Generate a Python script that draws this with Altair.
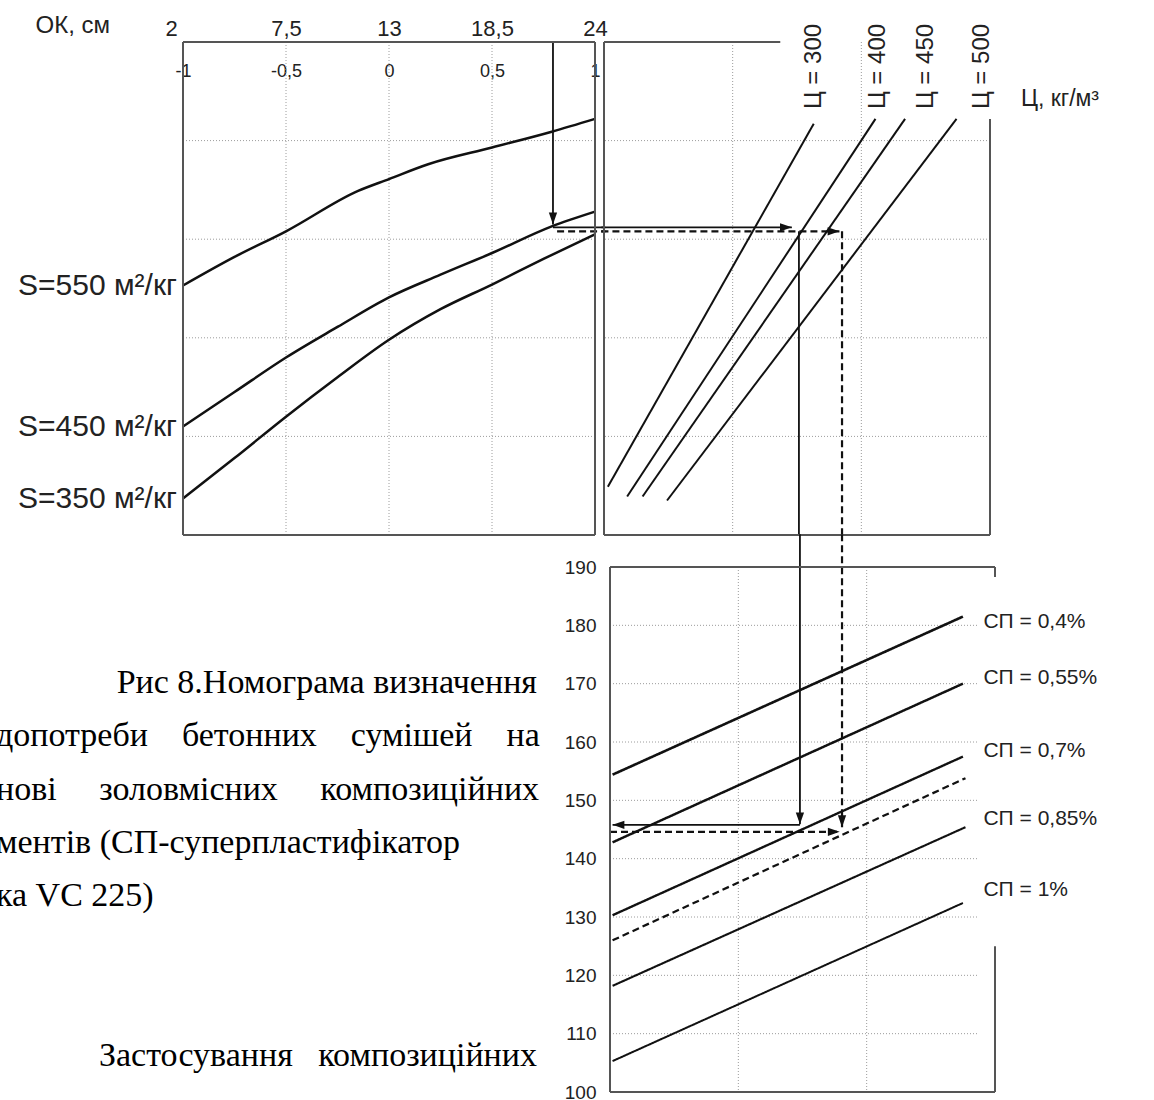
import altair as alt
import pandas as pd

# ---------------- values ----------------
# top-left panel: coded slump factor (-1 .. 1) on x, nomogram rows (0 .. 5) on y
ok_coded = [-1, -0.5, 0, 0.5, 1]
ok_text = ["2", "7,5", "13", "18,5", "24"]            # ОК, см
coded_text = ["-1", "-0,5", "0", "0,5", "1"]
tl_grid_rows = [1, 2, 3, 4]

s_names = ["S=550 м²/кг", "S=450 м²/кг", "S=350 м²/кг"]
s550_x = [-1, -0.75, -0.5, -0.15, 0, 0.19, 0.5, 0.79, 1]
s550_y = [2.53, 2.82, 3.08, 3.49, 3.61, 3.76, 3.93, 4.09, 4.22]
s450_x = [-1, -0.75, -0.5, -0.25, 0, 0.25, 0.5, 0.79, 1]
s450_y = [1.10, 1.45, 1.80, 2.11, 2.41, 2.64, 2.86, 3.13, 3.28]
s350_x = [-1, -0.75, -0.5, -0.25, 0, 0.25, 0.5, 0.75, 1]
s350_y = [0.37, 0.78, 1.20, 1.60, 1.98, 2.29, 2.54, 2.80, 3.05]

# top-right panel: cement content lines (x 0 .. 3, same rows as the left panel)
c_names = ["Ц = 300", "Ц = 400", "Ц = 450", "Ц = 500"]
c_x0 = [0.03, 0.18, 0.30, 0.49]
c_y0 = [0.49, 0.39, 0.39, 0.35]
c_x1 = [1.63, 2.11, 2.34, 2.74]
c_y1 = [4.17, 4.22, 4.22, 4.22]
c_label_x = [1.63, 2.13, 2.50, 2.94]
c_label_y = [4.32, 4.32, 4.32, 4.32]
c_unit = ["Ц, кг/м³"]
c_unit_x = [3.24]
c_unit_y = [4.42]
tr_grid_cols = [1, 2]

# bottom panel: water demand, л/м³ (100 .. 190)
w_ticks = [100, 110, 120, 130, 140, 150, 160, 170, 180, 190]
w_grid_rows = [110, 120, 130, 140, 150, 160, 170, 180]
sp_names = ["СП = 0,4%", "СП = 0,55%", "СП = 0,7%", "проміжна", "СП = 0,85%", "СП = 1%"]
sp_x0 = [0.02, 0.02, 0.02, 0.02, 0.02, 0.02]
sp_y0 = [154.4, 142.8, 130.3, 126.0, 118.2, 105.3]
sp_x1 = [2.75, 2.75, 2.75, 2.77, 2.77, 2.75]
sp_y1 = [181.5, 170.0, 157.5, 153.8, 145.4, 132.4]
sp_label = ["СП = 0,4%", "СП = 0,55%", "СП = 0,7%", "СП = 0,85%", "СП = 1%"]
sp_label_y = [180.6, 171.0, 158.5, 146.8, 134.6]
sp_label_x = [2.91, 2.91, 2.91, 2.91, 2.91]

# worked example (arrows)
ex_ok = 0.796
ex_row_solid = 3.12
ex_row_dash = 3.08
ex_c_solid = 1.515
ex_c_dash = 1.85
ex_w_solid = 145.8
ex_w_dash = 144.6

# caption text beside the bottom panel
NB = "\u00a0"
para_lines = ["Рис 8.Номограма визначення",
              "допотреби" + NB * 3 + " бетонних" + NB * 3 + " сумішей" + NB * 3 + " на",
              "нові" + NB * 4 + " золовмісних" + NB * 4 + " композиційних",
              "ментів (СП-суперпластифікатор",
              "ка VC 225)",
              "Застосування" + NB * 2 + " композиційних"]
para_row = [0, 1, 2, 3, 4, 7]

# ---------------- styling ----------------
FONT = "Liberation Sans, Arial, sans-serif"
SERIF = "Liberation Serif, Times New Roman, serif"
INK = "#111111"
TXT = "#222222"
FRAME = "#555555"
GRID = "#9c9c9c"
HEAD_DOWN = "M-0.35,-1L0,0L0.35,-1Z"
HEAD_RIGHT = "M-1,-0.35L0,0L-1,0.35Z"
HEAD_LEFT = "M1,-0.35L0,0L1,0.35Z"
NO_VIEW = alt.ViewBackground(stroke="transparent", strokeWidth=0)


def seg_df(names, x0, y0, x1, y1):
    rows = []
    for n, a, b, c, d in zip(names, x0, y0, x1, y1):
        rows.append({"name": n, "x": a, "y": b, "o": 0})
        rows.append({"name": n, "x": c, "y": d, "o": 1})
    return pd.DataFrame(rows)


def expr_map(keys, labels):
    parts = [f"datum.value == {k} ? '{l}'" for k, l in zip(keys, labels)]
    return " : ".join(parts) + " : ''"


def rule_box(df, xs, ys, color=FRAME, width=2):
    return alt.Chart(df).mark_rule(color=color, strokeWidth=width).encode(
        x=alt.X("x:Q", scale=xs, axis=None), x2="x2:Q",
        y=alt.Y("y:Q", scale=ys, axis=None), y2="y2:Q")


def path_layer(df, xs, ys, width, dash=None):
    kw = dict(color=INK, strokeWidth=width)
    if dash:
        kw["strokeDash"] = dash
    return alt.Chart(df).mark_line(**kw).encode(
        x=alt.X("x:Q", scale=xs, axis=None), y=alt.Y("y:Q", scale=ys, axis=None),
        detail="name:N", order="o:Q")


def heads(df, xs, ys, shape):
    return alt.Chart(df).mark_point(shape=shape, filled=True, size=560, color=INK,
                                    opacity=1, strokeWidth=0).encode(
        x=alt.X("x:Q", scale=xs, axis=None), y=alt.Y("y:Q", scale=ys, axis=None))


def grid_rule(df, enc):
    return alt.Chart(df).mark_rule(color=GRID, strokeDash=[1, 2], strokeWidth=1).encode(**enc)


# ---------------- top-left panel (view is 595 wide, frame sits at 183..595) ----------------
tl_x = alt.Scale(domain=[-1, 1], range=[183, 595], nice=False, zero=False)
tl_y = alt.Scale(domain=[0, 5], nice=False, zero=False)

ok_axis = alt.Axis(orient="top", values=ok_coded, labelExpr=expr_map(ok_coded, ok_text),
                   labelFont=FONT, labelFontSize=22, labelPadding=2, labelFlush=False,
                   labelColor=TXT, domain=False, ticks=False, grid=False,
                   labelOffset={"condition": {"test": "datum.value <= -1", "value": -12}, "value": 0},
                   title="ОК, см", titleFont=FONT, titleFontSize=24, titleFontWeight="normal",
                   titleX=35, titleY=-10, titleAlign="left", titleBaseline="alphabetic",
                   titleAngle=0, titleColor=TXT)
inner_axis = alt.Axis(orient="bottom", offset=-473, values=ok_coded,
                      labelExpr=expr_map(ok_coded, coded_text), labelFont=FONT,
                      labelFontSize=18, labelPadding=0, labelFlush=False, labelBaseline="top",
                      labelColor=TXT, title=None, domain=False, ticks=False, grid=False)

s_df = pd.concat([
    pd.DataFrame({"name": n, "x": xs, "y": ys, "o": list(range(len(xs)))})
    for n, xs, ys in zip(s_names, [s550_x, s450_x, s350_x], [s550_y, s450_y, s350_y])
])

tl_grid_v = grid_rule(pd.DataFrame({"x": ok_coded[1:-1]}),
                      dict(x=alt.X("x:Q", scale=tl_x, axis=inner_axis)))
tl_grid_h = grid_rule(pd.DataFrame({"y": tl_grid_rows, "x": -1, "x2": 1}),
                      dict(y=alt.Y("y:Q", scale=tl_y, axis=None),
                           x=alt.X("x:Q", scale=tl_x, axis=None), x2="x2:Q"))
tl_curves = alt.Chart(s_df).mark_line(color=INK, strokeWidth=2.5, interpolate="monotone").encode(
    x=alt.X("x:Q", scale=tl_x, axis=ok_axis), y=alt.Y("y:Q", scale=tl_y, axis=None),
    detail="name:N", order="o:Q")
tl_names = alt.Chart(s_df[s_df["o"] == 0]).mark_text(
    align="right", baseline="middle", dx=-6, font=FONT, fontSize=30, color=TXT).encode(
    x=alt.X("x:Q", scale=tl_x, axis=None), y=alt.Y("y:Q", scale=tl_y, axis=None), text="name:N")
tl_frame = rule_box(pd.DataFrame({"x": [-1, 1, -1, -1], "x2": [-1, 1, 1, 1],
                                  "y": [0, 0, 0, 5], "y2": [5, 5, 0, 5]}), tl_x, tl_y)
tl_solid = path_layer(seg_df(["v", "h"], [ex_ok, ex_ok], [5, ex_row_solid],
                             [ex_ok, 1.05], [3.15, ex_row_solid]), tl_x, tl_y, 1.8)
tl_dash = path_layer(seg_df(["h"], [ex_ok + 0.02], [ex_row_dash], [1.05], [ex_row_dash]),
                     tl_x, tl_y, 2.2, [7, 4])
tl_head = heads(pd.DataFrame({"x": [ex_ok], "y": [3.15]}), tl_x, tl_y, HEAD_DOWN)

top_left = alt.layer(tl_grid_v, tl_grid_h, tl_curves, tl_names, tl_solid, tl_dash, tl_head,
                     tl_frame).resolve_axis(x="independent", y="independent").properties(
    width=595, height=493, view=NO_VIEW)

# ---------------- top-right panel ----------------
tr_x = alt.Scale(domain=[0, 3], nice=False, zero=False)
tr_y = alt.Scale(domain=[0, 5], nice=False, zero=False)

tr_grid_v = grid_rule(pd.DataFrame({"x": tr_grid_cols}), dict(x=alt.X("x:Q", scale=tr_x, axis=None)))
tr_grid_h = grid_rule(pd.DataFrame({"y": tl_grid_rows}), dict(y=alt.Y("y:Q", scale=tr_y, axis=None)))
tr_lines = path_layer(seg_df(c_names, c_x0, c_y0, c_x1, c_y1), tr_x, tr_y, 2.0)
tr_names = alt.Chart(pd.DataFrame({"name": c_names, "x": c_label_x, "y": c_label_y})).mark_text(
    align="left", baseline="middle", angle=270, font=FONT, fontSize=24, color=TXT).encode(
    x=alt.X("x:Q", scale=tr_x, axis=None), y=alt.Y("y:Q", scale=tr_y, axis=None), text="name:N")
tr_unit = alt.Chart(pd.DataFrame({"name": c_unit, "x": c_unit_x, "y": c_unit_y})).mark_text(
    align="left", baseline="middle", font=FONT, fontSize=23, color=TXT).encode(
    x=alt.X("x:Q", scale=tr_x, axis=None), y=alt.Y("y:Q", scale=tr_y, axis=None), text="name:N")
tr_frame = rule_box(pd.DataFrame({"x": [0, 0, 0, 3], "x2": [0, 3, 1.37, 3],
                                  "y": [0, 0, 5, 0], "y2": [5, 0, 5, 4.22]}), tr_x, tr_y)
tr_solid = path_layer(seg_df(["h", "v"], [-0.02, ex_c_solid], [ex_row_solid, ex_row_dash],
                             [1.46, ex_c_solid], [ex_row_solid, 0]), tr_x, tr_y, 1.8)
tr_dash = path_layer(seg_df(["h", "v"], [-0.02, ex_c_dash], [ex_row_dash, ex_row_dash],
                            [ex_c_dash, ex_c_dash], [ex_row_dash, 0]), tr_x, tr_y, 2.2, [7, 4])
tr_head = heads(pd.DataFrame({"x": [1.46, 1.83], "y": [ex_row_solid, ex_row_dash]}),
                tr_x, tr_y, HEAD_RIGHT)

top_right = alt.layer(tr_grid_v, tr_grid_h, tr_lines, tr_names, tr_unit, tr_solid, tr_dash,
                      tr_head, tr_frame).properties(width=386, height=493, view=NO_VIEW)

# ---------------- bottom panel (view 391 wide, frame at 6..391) ----------------
b_x = alt.Scale(domain=[0, 3], range=[6, 391], nice=False, zero=False)
b_y = alt.Scale(domain=[100, 190], nice=False, zero=False)
w_axis = alt.Axis(values=w_ticks, labelFont=FONT, labelFontSize=19, labelPadding=8,
                  labelColor=TXT, title=None, labelFlush=False, domain=False, ticks=False,
                  grid=False)

b_grid_v = grid_rule(pd.DataFrame({"x": tr_grid_cols}), dict(x=alt.X("x:Q", scale=b_x, axis=None)))
b_grid_h = grid_rule(pd.DataFrame({"y": w_grid_rows, "x": 0, "x2": 2.86}),
                     dict(y=alt.Y("y:Q", scale=b_y, axis=None),
                          x=alt.X("x:Q", scale=b_x, axis=None), x2="x2:Q"))
b_lines = alt.Chart(seg_df(sp_names, sp_x0, sp_y0, sp_x1, sp_y1)).mark_line(color=INK).encode(
    x=alt.X("x:Q", scale=b_x, axis=None), y=alt.Y("y:Q", scale=b_y, axis=w_axis),
    detail="name:N", order="o:Q",
    strokeWidth=alt.StrokeWidth("name:N", legend=None,
                                scale=alt.Scale(domain=sp_names, range=[2.6, 2.0, 2.4, 2.0, 2.0, 2.6])),
    strokeDash=alt.StrokeDash("name:N", legend=None,
                              scale=alt.Scale(domain=sp_names,
                                              range=[[1, 0], [1, 0], [1, 0], [7, 4], [1, 0], [1, 0]])))
b_names = alt.Chart(pd.DataFrame({"name": sp_label, "x": sp_label_x, "y": sp_label_y})).mark_text(
    align="left", baseline="middle", font=FONT, fontSize=21, color=TXT).encode(
    x=alt.X("x:Q", scale=b_x, axis=None), y=alt.Y("y:Q", scale=b_y, axis=None), text="name:N")
b_frame = rule_box(pd.DataFrame({"x": [0, 0, 0, 3, 3], "x2": [0, 3, 3, 3, 3],
                                 "y": [100, 100, 190, 190, 100], "y2": [190, 100, 190, 188.3, 125.0]}),
                   b_x, b_y)
b_solid = path_layer(seg_df(["v", "h"], [1.48, 1.48], [195.6, ex_w_solid],
                            [1.48, 0.02], [145.9, ex_w_solid]), b_x, b_y, 1.8)
b_dash = path_layer(seg_df(["v", "h"], [1.808, 0.0], [195.6, ex_w_dash],
                           [1.808, 1.79], [145.4, ex_w_dash]), b_x, b_y, 2.2, [7, 4])
b_head_d = heads(pd.DataFrame({"x": [1.48, 1.808], "y": [145.9, 145.4]}), b_x, b_y, HEAD_DOWN)
b_head_l = heads(pd.DataFrame({"x": [0.02], "y": [ex_w_solid]}), b_x, b_y, HEAD_LEFT)
b_head_r = heads(pd.DataFrame({"x": [1.79], "y": [ex_w_dash]}), b_x, b_y, HEAD_RIGHT)

bottom = alt.layer(b_grid_v, b_grid_h, b_lines, b_names, b_solid, b_dash, b_head_d, b_head_l,
                   b_head_r, b_frame).resolve_axis(x="independent", y="independent").properties(
    width=391, height=525, view=NO_VIEW)

# ---------------- caption text ----------------
p_df = pd.DataFrame({"line": para_lines, "row": para_row})
p_y = alt.Scale(domain=[0, 1], range=[126, 179.3], zero=False, nice=False)
right_rows = p_df[p_df["row"].isin([0, 7])]
left_rows = p_df[~p_df["row"].isin([0, 7])]
p_right = alt.Chart(right_rows).mark_text(align="right", baseline="alphabetic", font=SERIF,
                                          fontSize=34, color="#000000", clip=True).encode(
    x=alt.value(537), y=alt.Y("row:Q", scale=p_y, axis=None), text="line:N")
p_left = alt.Chart(left_rows).mark_text(align="left", baseline="alphabetic", font=SERIF,
                                        fontSize=34, color="#000000", clip=True).encode(
    x=alt.value(-4), y=alt.Y("row:Q", scale=p_y, axis=None), text="line:N")
caption = alt.layer(p_right, p_left).properties(width=595, height=525, view=NO_VIEW)

chart = alt.concat(top_left, top_right, caption, bottom, columns=2,
                   spacing={"row": 32, "column": 9}, bounds="flush").properties(
    padding={"left": 0, "top": 13, "right": 0, "bottom": 0},
    background="white",
).configure_view(stroke="transparent", strokeWidth=0).configure_axis(
    domain=False, ticks=False, grid=False
).configure(font=FONT)

chart.save("out.html", embed_options={"renderer": "svg", "actions": False})
